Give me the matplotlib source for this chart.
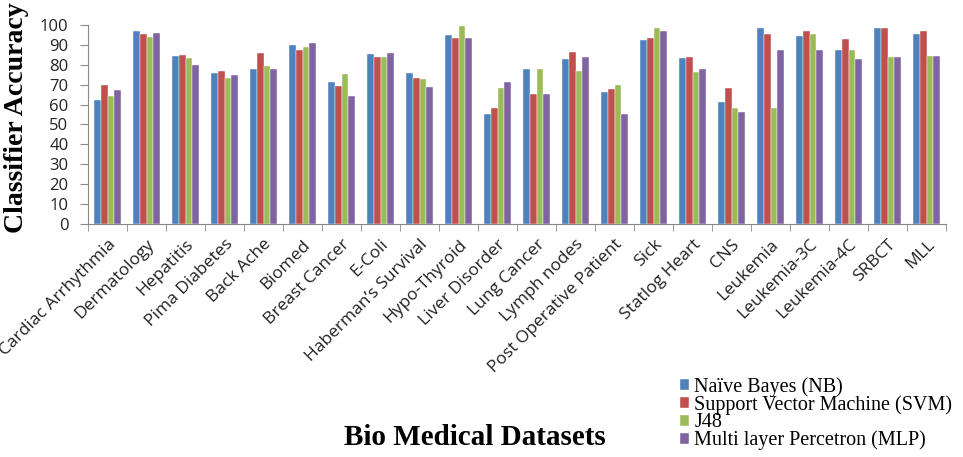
import numpy as np
import matplotlib
matplotlib.use("Agg")
from matplotlib import pyplot as plt

# datasets (x axis)
datasets = ["Cardiac Arrhythmia", "Dermatology", "Hepatitis", "Pima Diabetes",
            "Back Ache", "Biomed", "Breast Cancer", "E-Coli", "Haberman\u2019s Survival",
            "Hypo-Thyroid", "Liver Disorder", "Lung Cancer", "Lymph nodes",
            "Post Operative Patient", "Sick", "Statlog Heart", "CNS", "Leukemia",
            "Leukemia-3C", "Leukemia-4C", "SRBCT", "MLL"]

nb = [62.5, 97, 84.5, 76, 78, 90, 71.5, 85.3, 75.9, 95.1, 55.1, 77.9, 82.9,
      66.5, 92.3, 83.3, 61.5, 98.3, 94.3, 87.3, 98.5, 95.5]
svm = [70, 95.5, 85, 77, 86, 87.5, 69.4, 84.1, 73.4, 93.3, 58.1, 65.3, 86.3,
       67.7, 93.6, 83.9, 68.2, 95.5, 96.8, 93, 98.5, 96.8]
j48 = [64.5, 94, 83.5, 73.5, 79.5, 89, 75.4, 84.1, 72.7, 99.5, 68.3, 77.9, 76.7,
       69.7, 98.5, 76.5, 58.3, 58.3, 95.5, 87.3, 84.1, 84.4]
mlp = [67.5, 96, 80, 75, 78, 91, 64.5, 85.8, 69, 93.6, 71.4, 65.3, 84.1,
       55.4, 97, 77.9, 56.4, 87.3, 87.4, 83.1, 84.1, 84.4]

series_names = ["Na\u00efve Bayes (NB)", "Support Vector Machine (SVM)", "J48",
                "Multi layer Percetron (MLP)"]
colors = ["#4F81BD", "#C0504D", "#9BBB59", "#8064A2"]

fig = plt.figure(figsize=(9.63, 4.57), dpi=100)
ax = fig.add_axes([88/963, 1-224/457, (946-88)/963, (224-25)/457])

x = np.arange(len(datasets))
w = 0.17
for i, (vals, name, c) in enumerate(zip([nb, svm, j48, mlp], series_names, colors)):
    ax.bar(x + (i - 1.5) * w, vals, w, color=c, label=name, edgecolor="white", linewidth=0.3)

ax.set_xlim(-0.5, len(datasets) - 0.5)
ax.set_ylim(0, 100)
ax.set_yticks(range(0, 101, 10))
ax.set_xticks(x)
ax.set_xticklabels(datasets, rotation=45, ha="right", rotation_mode="anchor",
                   fontsize=12.5, fontfamily="Open Sans", color="#222222")
ax.set_xticks(np.arange(-0.5, len(datasets)), minor=True)
ax.tick_params(axis="x", which="major", length=0, pad=9)
ax.tick_params(axis="x", which="minor", length=5, color="#888888")
ax.tick_params(axis="y", length=6, color="#888888", labelsize=12, labelcolor="#222222", pad=8)
for lab in ax.get_yticklabels():
    lab.set_fontfamily("Open Sans")

for s in ["top", "right"]:
    ax.spines[s].set_visible(False)
for s in ["left", "bottom"]:
    ax.spines[s].set_color("#888888")

fig.text(0.017, 0.742, "Classifier Accuracy", rotation=90, ha="center", va="center",
         fontsize=20, fontweight="bold", fontfamily="Liberation Serif")
fig.text(0.493, 0.042, "Bio Medical Datasets", ha="center", va="center",
         fontsize=21, fontweight="bold", fontfamily="Liberation Serif")

fig.legend(loc="upper left", bbox_to_anchor=(670/963, 1-367/457), frameon=False,
           prop={"family": "Liberation Serif", "size": 14.5}, handlelength=0.45,
           handleheight=0.45, handletextpad=0.25, labelspacing=-0.08, borderpad=0)

fig.savefig("out.png", dpi=100)
